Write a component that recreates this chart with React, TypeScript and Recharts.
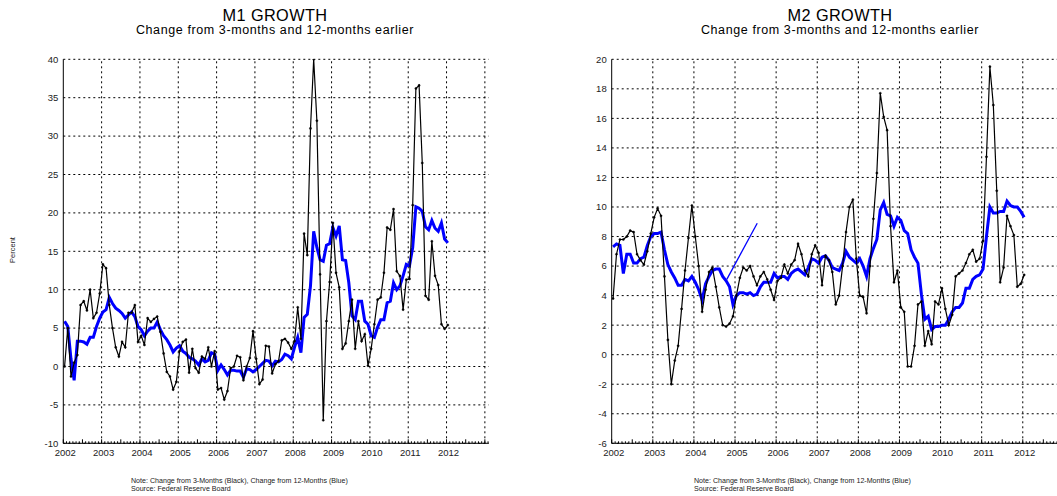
import { LineChart, Line, XAxis, YAxis, CartesianGrid, ReferenceLine } from 'recharts';

// monthly observations, Jan 2002 .. Jan 2012
const FIRST_YEAR = 2002;
const X_MAX = 2013.1;

const yearLabels = [2002, 2003, 2004, 2005, 2006, 2007, 2008, 2009, 2010, 2011, 2012];
const gridYears = [2003, 2004, 2005, 2006, 2007, 2008, 2009, 2010, 2011, 2012, 2013];

const m1Ticks = [-10, -5, 0, 5, 10, 15, 20, 25, 30, 35, 40];
const m2Ticks = [-6, -4, -2, 0, 2, 4, 6, 8, 10, 12, 14, 16, 18, 20];

const m1ThreeMonth = [
  0, 5, -1.3, 0.5, 1.5, 8, 8.5, 7.3, 10, 6.3, 7, 9.5,
  13.3, 12.8, 8, 5, 2.5, 1.3, 3.2, 2.5, 7, 7, 8, 3.2,
  4, 2.8, 6.3, 5.8, 6.2, 6.5, 4.5, 1.7, -0.7, -1.3, -3, -2,
  2, 3.2, 3.5, -0.8, 2.3, -0.2, -0.8, 1.3, 1, 2.5, 0, 2,
  -3, -2.8, -4.3, -3.2, -0.2, 0, 1.4, 1.2, -1.8, 0, 1.1, 4.6,
  1.0, -2.3, -1.7, 2.7, 2.6, -0.9, 0.3, 0.7, 3.4, 3.6, 3.1, 2.3,
  3.3, 7.7, 3.6, 17.3, 14.5, 31, 40, 32, 12, -7, 5.9, 11,
  18.7, 12.2, 10.3, 2.3, 3.0, 5.9, 8.7, 2.3, 5.9, 3.3, 4.2, 0.1,
  2.3, 5.5, 8.7, 9.0, 12.2, 18.1, 17.8, 20.5, 12.4, 11.8, 7.4, 11.3,
  11.4, 21, 36.2, 36.6, 26.5, 9.2, 8.7, 16.3, 11.8, 10.6, 5.5, 4.9,
  5.4,
];

const m1TwelveMonth = [
  5.9, 5.2, 1.0, -1.8, 3.3, 3.3, 3.2, 2.9, 3.8, 3.8, 5.2, 6.3,
  7.1, 7.4, 9.0, 8.2, 7.6, 7.3, 6.9, 6.3, 6.7, 7.1, 6.5, 5.2,
  4.8, 4.0, 4.6, 5.0, 5.0, 5.8, 4.8, 4.0, 3.5, 2.8, 1.9, 2.4,
  2.7, 2.0, 1.7, 1.2, 1.0, 0.7, 0.2, 1.0, 0.6, 0.8, 1.8, 1.6,
  -0.5, 0.2, -0.4, -1.1, -0.5, -0.5, -0.6, -0.6, -1.4, -0.3, -0.4, -0.7,
  -0.4, 0, 0.4, 0.8, 0.7, 0.1, 0.7, 0.6, 0.9, 1.6, 1.4, 1.0,
  2.5, 3.8, 1.8, 6.4, 6.8, 10.5, 17.6, 15.5, 13.9, 13.7, 15.8, 16,
  18.1, 17, 18.3, 13.9, 13.8, 10.9, 6.6, 6.1, 8.5, 8.5, 5.9, 5.5,
  4.0, 3.8, 5.1, 6.1, 6.1, 8.3, 8.5, 10.9, 10, 10.5, 11.8, 13.3,
  13.1, 15.5, 20.8, 20.6, 20.2, 18.2, 17.8, 19.0, 18.0, 17.6, 18.7, 16.6,
  16.1,
];

const m2ThreeMonth = [
  3.8, 6.8, 7.8, 7.8, 8.0, 8.4, 8.3, 6.8, 6.4, 6.1, 7.0, 8.2,
  9.3, 9.9, 9.4, 5.3, 1.0, -2.0, -0.4, 0.6, 3.1, 5.7, 7.9, 10.1,
  8.0, 6.0, 2.9, 4.4, 5.6, 5.9, 4.6, 3.2, 2.0, 1.9, 2.1, 2.6,
  4.0, 5.2, 5.9, 5.7, 6.0, 5.3, 4.7, 5.3, 5.6, 5.1, 4.4, 3.7,
  5.0, 5.2, 6.1, 5.5, 6.1, 6.4, 7.5, 6.8, 5.7, 5.3, 6.8, 7.4,
  6.9, 4.7, 6.7, 6.4, 5.6, 3.4, 4.0, 6.0, 8.3, 10.0, 10.5, 6.5,
  4.0, 3.9, 2.8, 6.0, 9.2, 12.3, 17.7, 16.1, 15.2, 8.7, 4.9, 5.7,
  3.2, 2.9, -0.8, -0.8, 0.6, 3.4, 3.6, 0.6, 1.6, 0.7, 3.6, 3.4,
  4.5, 3.1, 2.0, 2.7, 5.3, 5.5, 5.7, 6.2, 6.8, 7.1, 6.3, 6.5,
  7.7, 13.4, 19.5, 16.9, 11.1, 4.9, 5.9, 9.4, 8.7, 8.1, 4.6, 4.8,
  5.4,
];

const m2TwelveMonth = [
  7.3, 7.5, 7.4, 5.5, 6.8, 6.8, 6.2, 6.2, 6.5, 6.6, 7.4, 8.0,
  8.2, 8.2, 8.3, 7.1, 6.1, 5.6, 5.2, 4.7, 4.7, 5.1, 5.0, 5.3,
  4.9, 4.4, 3.7, 4.8, 5.3, 5.7, 5.8, 5.8, 5.3, 5.0, 4.6, 3.4,
  4.0, 4.2, 4.2, 4.1, 4.2, 4.0, 4.1, 4.6, 4.9, 4.9, 4.9, 5.5,
  5.2, 5.3, 5.3, 5.1, 5.5, 5.7, 5.8, 5.6, 5.4, 5.9, 6.5, 6.4,
  6.2, 6.6, 6.7, 6.4, 5.9, 5.8, 5.7, 6.2, 7.0, 6.6, 6.4, 6.2,
  6.5, 6.0, 5.3, 6.5, 7.2, 7.8, 9.8, 10.3, 9.5, 9.4, 8.7, 9.3,
  9.1, 8.4, 8.2, 7.1, 6.6, 6.2, 4.1, 2.4, 2.6, 1.7, 1.9, 1.9,
  2.0, 2.0, 2.4, 2.9, 3.2, 3.2, 3.5, 4.5, 4.5, 5.1, 5.3, 5.4,
  5.8, 8.0, 10.0, 9.6, 9.6, 9.7, 9.7, 10.4, 10.1, 10.0, 10.0, 9.7,
  9.3,
];

// stray thin blue segment that shows up in the M2 panel
const m2StrayX = [2004.8, 2005.54];
const m2StrayY = [5.1, 8.9];

const monthTicks: number[] = [];
for (let yr = FIRST_YEAR; yr <= 2013; yr++) {
  for (let m = 0; m < 12; m++) {
    const t = yr + m / 12;
    if (t <= X_MAX) monthTicks.push(t);
  }
}

const toRows = (threeMonth: number[], twelveMonth: number[]) =>
  threeMonth.map((v, i) => ({ x: FIRST_YEAR + (i + 0.4) / 12, m3: v, m12: twelveMonth[i] }));

const m1Rows = toRows(m1ThreeMonth, m1TwelveMonth);
const m2Rows = toRows(m2ThreeMonth, m2TwelveMonth);
const m2Stray = m2StrayX.map((x, i) => ({ x, v: m2StrayY[i] }));

const renderMonthTick = (props: any) => {
  const { x, y, payload } = props;
  const v: number = payload.value;
  const yr = Math.floor(v + 1e-6);
  const m = Math.round((v - yr) * 12);
  const len = m === 0 || m === 6 ? 4 : 2;
  return (
    <g>
      <line x1={x} y1={y} x2={x} y2={y - len} stroke="#000" strokeWidth={1} />
      {m === 0 && yearLabels.includes(yr) && (
        <text x={x + 2} y={y + 13} textAnchor="middle" fontSize={9.5} fill="#222">
          {yr}
        </text>
      )}
    </g>
  );
};

interface PanelProps {
  left: number;
  width: number;
  marginLeft: number;
  marginRight: number;
  rows: { x: number; m3: number; m12: number }[];
  yDomain: [number, number];
  yTicks: number[];
  stray?: { x: number; v: number }[];
}

function GrowthPanel({ left, width, marginLeft, marginRight, rows, yDomain, yTicks, stray }: PanelProps) {
  return (
    <div style={{ position: 'absolute', left, top: 0 }}>
      <LineChart
        width={width}
        height={496}
        data={rows}
        margin={{ top: 59.3, right: marginRight, bottom: 32.7, left: marginLeft }}
      >
        <CartesianGrid vertical={false} stroke="#000" strokeDasharray="2 3" />
        {gridYears.map((yr) => (
          <ReferenceLine key={yr} x={yr} stroke="#000" strokeDasharray="2 3" />
        ))}
        <XAxis
          type="number"
          dataKey="x"
          domain={[FIRST_YEAR, X_MAX]}
          ticks={monthTicks}
          interval={0}
          tickSize={0}
          tickMargin={0}
          tickLine={false}
          tick={renderMonthTick}
          axisLine={{ stroke: '#000' }}
          height={20}
          allowDataOverflow
        />
        <XAxis
          xAxisId="top"
          orientation="top"
          type="number"
          domain={[FIRST_YEAR, X_MAX]}
          tick={false}
          tickLine={false}
          axisLine={{ stroke: '#000' }}
          height={0}
        />
        <YAxis
          type="number"
          domain={yDomain}
          ticks={yTicks}
          interval={0}
          tickLine={false}
          tickSize={0}
          tickMargin={5}
          axisLine={{ stroke: '#000' }}
          tick={{ fontSize: 9.5, fill: '#222' }}
          width={40}
          allowDataOverflow
        />
        <YAxis
          yAxisId="right"
          orientation="right"
          type="number"
          domain={yDomain}
          tick={false}
          tickLine={false}
          axisLine={{ stroke: '#000' }}
          width={0}
        />
        <Line
          type="linear"
          dataKey="m12"
          stroke="#0000ff"
          strokeWidth={3}
          dot={false}
          isAnimationActive={false}
        />
        <Line
          type="linear"
          dataKey="m3"
          stroke="#000"
          strokeWidth={1.2}
          dot={{ r: 1.1, fill: '#000', stroke: '#000', strokeWidth: 0.4 }}
          isAnimationActive={false}
        />
        {stray && (
          <Line
            data={stray}
            type="linear"
            dataKey="v"
            stroke="#0000ff"
            strokeWidth={1.3}
            dot={false}
            isAnimationActive={false}
          />
        )}
      </LineChart>
    </div>
  );
}

export default function App() {
  return (
    <div
      style={{
        position: 'fixed',
        left: 0,
        top: 0,
        width: 1057,
        height: 496,
        overflow: 'hidden',
        background: '#fff',
        fontFamily: '"Liberation Sans", Arial, sans-serif',
      }}
    >
      <GrowthPanel
        left={0}
        width={500}
        marginLeft={23.3}
        marginRight={11.3}
        rows={m1Rows}
        yDomain={[-10, 40]}
        yTicks={m1Ticks}
      />
      <GrowthPanel
        left={560}
        width={520}
        marginLeft={11.7}
        marginRight={12}
        rows={m2Rows}
        yDomain={[-6, 20]}
        yTicks={m2Ticks}
        stray={m2Stray}
      />
      {/* titles and notes */}
      <svg
        width={1057}
        height={496}
        style={{ position: 'absolute', left: 0, top: 0, pointerEvents: 'none' }}
        fontFamily='"Liberation Sans", Arial, sans-serif'
      >
        <text x={275} y={20.7} textAnchor="middle" fontSize={16.3} letterSpacing={0.4} fill="#000">M1 GROWTH</text>
        <text x={275} y={33.6} textAnchor="middle" fontSize={12.5} letterSpacing={0.6} fill="#000">Change from 3-months and 12-months earlier</text>
        <text x={840} y={20.7} textAnchor="middle" fontSize={16.3} letterSpacing={0.4} fill="#000">M2 GROWTH</text>
        <text x={840} y={33.6} textAnchor="middle" fontSize={12.5} letterSpacing={0.6} fill="#000">Change from 3-months and 12-months earlier</text>
        <text x={13} y={250} textAnchor="middle" fontSize={7.5} fill="#222" transform="rotate(-90 13 250)" dominantBaseline="middle">Percent</text>
        <text x={131} y={483} fontSize={7.1} fill="#222">Note: Change from 3-Months (Black), Change from 12-Months (Blue)</text>
        <text x={131} y={491} fontSize={7.1} fill="#222">Source: Federal Reserve Board</text>
        <text x={694} y={483} fontSize={7.1} fill="#222">Note: Change from 3-Months (Black), Change from 12-Months (Blue)</text>
        <text x={694} y={491} fontSize={7.1} fill="#222">Source: Federal Reserve Board</text>
      </svg>
    </div>
  );
}
